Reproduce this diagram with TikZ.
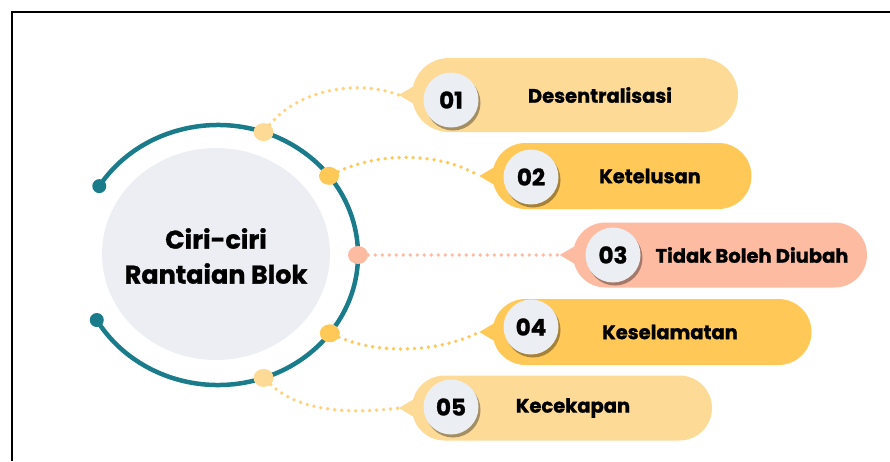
\documentclass[tikz,border=0pt]{standalone}
\usepackage{fontspec}
\setmainfont{Poppins}[BoldFeatures={FakeBold=1.2}]
\usetikzlibrary{shapes.misc,shapes.geometric,shadows}
\definecolor{ringteal}{HTML}{1A7B8B}
\definecolor{hubgrey}{HTML}{ECEEF3}
\definecolor{lightamber}{HTML}{FDDB97}
\definecolor{amber}{HTML}{FFC857}
\definecolor{salmon}{HTML}{FDBBA2}
\definecolor{numgrey}{HTML}{EBEEF3}

\begin{document}
\begin{tikzpicture}[x=1pt,y=-1pt,
    pill/.style={rounded rectangle, inner sep=0pt},
    num/.style={circle, fill=numgrey, minimum size=55pt, inner sep=0pt,
        font=\fontsize{23}{25}\selectfont\bfseries,
        drop shadow={shadow xshift=2pt,shadow yshift=-3pt,fill=black,opacity=.35}},
    caption/.style={font=\fontsize{19.5}{22}\selectfont\bfseries},
    knob/.style={ellipse, minimum width=20pt, minimum height=18pt, inner sep=0pt},
    link/.style={line width=3.8pt, line cap=round, dash pattern=on 0pt off 7pt}]
    \useasboundingbox (0,0) rectangle (890,461);

    % frame
    \draw[line width=2.5pt] (12,461) -- (12,12) -- (890,12);

    % hub and ring
    \coordinate (c) at (218,255);
    \fill[hubgrey] (216,254) ellipse[x radius=114, y radius=106];
    \node[align=center, font=\fontsize{25.5}{35}\selectfont\bfseries] (hub) at (216,256)
        {Ciri-ciri\\Rantaian Blok};
    \draw[ringteal, line width=4.5pt] (c) ++(-148:140 and 130)
        arc[start angle=-148, end angle=150, x radius=140, y radius=130];
    \path (c) ++(-148:140 and 130) node[circle, fill=ringteal, minimum size=14pt, inner sep=0pt] (e1) {};
    \path (c) ++(150:140 and 130) node[circle, fill=ringteal, minimum size=14pt, inner sep=0pt] (e2) {};

    % knobs on the ring
    \foreach \i/\a/\col in {1/-71/lightamber, 2/-37.5/amber, 3/0/salmon, 4/37/amber, 5/71/lightamber}
        \path (c) ++(\a:140 and 130) node[knob, fill=\col] (d\i) {};

    % pills
    \foreach \i/\cx/\cy/\w/\h/\col/\nx/\ny/\tx/\txt in {
        1/575/95/326/74/lightamber/451/100/600/Desentralisasi,
        2/622/176/259/66/amber/531/177/650/Ketelusan,
        3/720/255/294/65/salmon/613/255/752/Tidak Boleh Diubah,
        4/652/332/319/66/amber/531/327/670/Keselamatan,
        5/562/408/300/65/lightamber/451/407/573/Kecekapan}
    {
        \node[pill, fill=\col, minimum width=\w pt, minimum height=\h pt] (p\i) at (\cx,\cy) {};
        \coordinate (t\i) at ([xshift=-13pt]p\i.west);
        \fill[\col] (t\i) -- ([xshift=9pt,yshift=13pt]p\i.west)
            -- ([xshift=9pt,yshift=-13pt]p\i.west) -- cycle;
        \node[num] (n\i) at (\nx,\ny) {0\i};
        \node[caption] (l\i) at (\tx,\cy) {\txt};
    }

    % connectors
    \draw[link, lightamber!60!amber] (d1) .. controls (300,88) and (360,80) .. (t1);
    \draw[link, amber] (d2) .. controls (380,152) and (440,152) .. (t2);
    \draw[link, salmon] (d3) -- (t3);
    \draw[link, amber] (d4) .. controls (380,355) and (440,352) .. (t4);
    \draw[link, lightamber!60!amber] (d5) .. controls (300,412) and (350,414) .. (t5);
\end{tikzpicture}
\end{document}
